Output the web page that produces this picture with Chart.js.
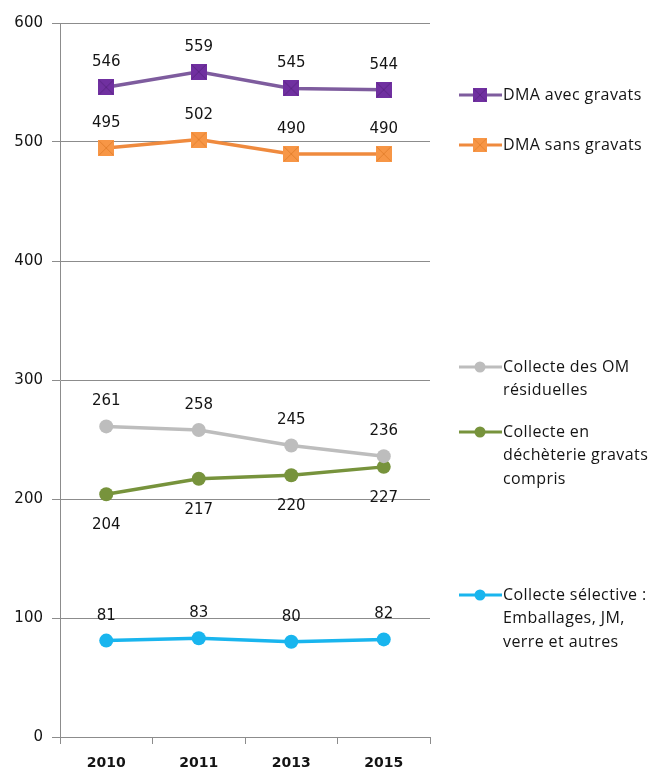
<!DOCTYPE html>
<html>
<head>
<meta charset="utf-8">
<script src="https://cdn.jsdelivr.net/npm/chart.js@4/dist/chart.umd.min.js"></script>
<style>
  html, body { margin: 0; padding: 0; background: #fff; overflow: hidden; }
  #wrap { width: 654px; height: 769px; position: relative; }
</style>
</head>
<body>
<div id="wrap"><canvas id="chart"></canvas></div>
<script>
const years = ["2010", "2011", "2013", "2015"];
const dmaAvecGravats = [546, 559, 545, 544];
const dmaSansGravats = [495, 502, 490, 490];
const collecteOM = [261, 258, 245, 236];
const collecteDecheterie = [204, 217, 220, 227];
const collecteSelective = [81, 83, 80, 82];
const seriesNames = ["DMA avec gravats", "DMA sans gravats", "Collecte des OM résiduelles", "Collecte en déchèterie gravats compris", "Collecte sélective : Emballages, JM, verre et autres"];
const legendLines = [
  ["DMA avec gravats"],
  ["DMA sans gravats"],
  ["Collecte des OM", "résiduelles"],
  ["Collecte en", "déchèterie gravats", "compris"],
  ["Collecte sélective :", "Emballages, JM,", "verre et autres"]
];
const yTicks = [0, 100, 200, 300, 400, 500, 600];

// square markers with a cross, like the excel ones
function squareMarker(fill, cross) {
  const c = document.createElement("canvas");
  c.width = 16; c.height = 16;
  const g = c.getContext("2d");
  g.fillStyle = fill;
  g.fillRect(0, 0, 16, 16);
  g.strokeStyle = cross;
  g.lineWidth = 1;
  g.beginPath();
  g.moveTo(1, 1); g.lineTo(15, 15);
  g.moveTo(15, 1); g.lineTo(1, 15);
  g.stroke();
  return c;
}
const purpleMark = squareMarker("#7030A0", "#5B2585");
const orangeMark = squareMarker("#F79646", "#E5812E");

const labelFont = "15px 'DejaVu Sans'";

// value labels above (or below) every point
const valueLabels = {
  id: "valueLabels",
  afterDatasetsDraw(chart) {
    const ctx = chart.ctx;
    ctx.save();
    ctx.font = labelFont;
    ctx.fillStyle = "#141414";
    ctx.textAlign = "center";
    ctx.textBaseline = "middle";
    chart.data.datasets.forEach((ds, i) => {
      const meta = chart.getDatasetMeta(i);
      const off = ds.labelBelow ? 31 : -25;
      meta.data.forEach((pt, j) => {
        ctx.fillText(String(ds.data[j]), pt.x, pt.y + off);
      });
    });
    ctx.restore();
  }
};

// legend on the right, placed next to the series
const sideLegend = {
  id: "sideLegend",
  afterDraw(chart) {
    const ctx = chart.ctx;
    const tops = [95, 145, 367, 432, 595];
    ctx.save();
    chart.data.datasets.forEach((ds, i) => {
      const y = tops[i];
      ctx.strokeStyle = ds.borderColor;
      ctx.lineWidth = 3;
      ctx.beginPath();
      ctx.moveTo(459, y);
      ctx.lineTo(502, y);
      ctx.stroke();
      if (ds.pointStyle instanceof HTMLCanvasElement) {
        ctx.drawImage(ds.pointStyle, 473, y - 7, 14, 14);
      } else {
        ctx.fillStyle = ds.pointBackgroundColor;
        ctx.beginPath();
        ctx.arc(480, y, 5.5, 0, Math.PI * 2);
        ctx.fill();
      }
      ctx.fillStyle = "#141414";
      ctx.font = "16px 'Open Sans'";
      ctx.letterSpacing = "0.4px";
      ctx.textAlign = "left";
      ctx.textBaseline = "middle";
      legendLines[i].forEach((line, k) => {
        ctx.fillText(line, 503, y + k * 23.5);
      });
    });
    ctx.restore();
  }
};

new Chart(document.getElementById("chart"), {
  type: "line",
  data: {
    labels: years,
    datasets: [
      { label: seriesNames[0], data: dmaAvecGravats, borderColor: "#7E5C9E", pointStyle: purpleMark, pointBackgroundColor: "#7030A0" },
      { label: seriesNames[1], data: dmaSansGravats, borderColor: "#EF8A3E", pointStyle: orangeMark, pointBackgroundColor: "#F79646" },
      { label: seriesNames[2], data: collecteOM, borderColor: "#BDBDBD", pointBackgroundColor: "#BDBDBD", pointBorderColor: "#BDBDBD" },
      { label: seriesNames[3], data: collecteDecheterie, borderColor: "#77933C", pointBackgroundColor: "#77933C", pointBorderColor: "#77933C", labelBelow: true },
      { label: seriesNames[4], data: collecteSelective, borderColor: "#19B5EE", pointBackgroundColor: "#19B5EE", pointBorderColor: "#19B5EE" }
    ].map(d => Object.assign({ borderWidth: 3.5, pointRadius: 7, pointBorderWidth: 0, tension: 0, fill: false }, d))
  },
  options: {
    responsive: true,
    maintainAspectRatio: false,
    animation: false,
    layout: { padding: { top: 23, right: 224, left: 0, bottom: 0 } },
    plugins: { legend: { display: false }, tooltip: { enabled: false } },
    scales: {
      x: {
        offset: true,
        afterFit: s => { s.height = 32; },
        grid: { offset: true, drawOnChartArea: false, drawTicks: true, tickLength: 7, color: "#8c8c8c", lineWidth: 1 },
        border: { color: "#8c8c8c", width: 1 },
        ticks: { color: "#141414", font: { family: "DejaVu Sans", size: 14, weight: "bold" }, padding: 11 }
      },
      y: {
        min: 0,
        max: 600,
        afterFit: s => { s.width = 60; },
        afterBuildTicks: s => { s.ticks = yTicks.map(v => ({ value: v })); },
        grid: { color: "#8c8c8c", lineWidth: 1, drawTicks: true, tickLength: 8 },
        border: { color: "#8c8c8c", width: 1 },
        ticks: { color: "#141414", font: { family: "DejaVu Sans", size: 15 }, padding: 9 }
      }
    }
  },
  plugins: [valueLabels, sideLegend]
});
</script>
</body>
</html>
